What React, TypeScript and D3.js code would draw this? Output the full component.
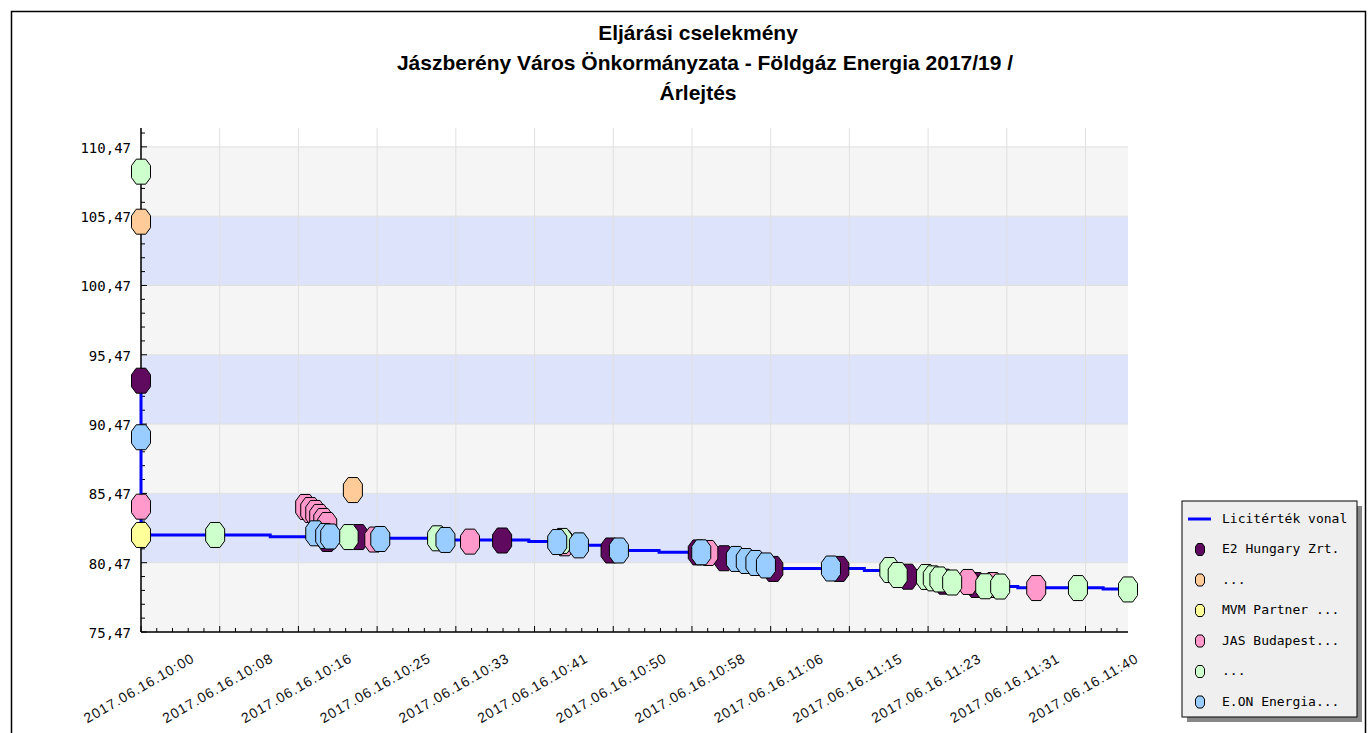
import React from 'react';
import * as d3 from 'd3';

const DAY = '2017-06-16';

// bidders (legend order = drawing order)
const seriesNames = ['E2 Hungary Zrt.', '...', 'MVM Partner ...', 'JAS Budapest...', '...', 'E.ON Energia...'];
const seriesColors = ['#5f0a5f', '#ffcc99', '#ffff99', '#ff99cc', '#ccffcc', '#99ccff'];

const e2Times = ['10:00:00', '10:19:43', '10:23:02', '10:38:14', '10:49:43', '10:58:57', '11:01:44', '11:06:57', '11:13:56', '11:21:11', '11:25:02', '11:28:25'];
const e2Values = [93.6, 82.18, 82.32, 82.07, 81.35, 81.21, 80.79, 80.02, 80.02, 79.46, 79.1, 78.86];

const orangeTimes = ['10:00:00', '10:22:26'];
const orangeValues = [105.07, 85.71];

const mvmTimes = ['10:00:00'];
const mvmValues = [82.47];

const jasTimes = ['10:00:00', '10:17:23', '10:17:55', '10:18:27', '10:18:52', '10:19:18', '10:19:43', '10:24:42', '10:34:50', '10:44:51', '11:00:04', '11:27:32', '11:30:11', '11:34:47'];
const jasValues = [84.51, 84.49, 84.27, 84.06, 83.77, 83.48, 83.19, 82.14, 81.99, 81.87, 81.17, 79.08, 78.86, 78.64];

const greenTimes = ['10:00:00', '10:07:51', '10:21:59', '10:31:21', '10:44:36', '11:19:14', '11:20:07', '11:23:07', '11:23:50', '11:24:32', '11:25:53', '11:29:23', '11:30:58', '11:39:12', '11:44:30'];
const greenValues = [108.68, 82.47, 82.32, 82.23, 82.04, 79.94, 79.58, 79.44, 79.34, 79.26, 79.04, 78.77, 78.75, 78.64, 78.54];

const eonTimes = ['10:00:00', '10:18:27', '10:19:30', '10:20:02', '10:25:20', '10:32:14', '10:44:04', '10:46:22', '10:50:36', '10:59:19', '11:02:59', '11:04:02', '11:05:03', '11:06:10', '11:13:03'];
const eonValues = [89.52, 82.59, 82.4, 82.36, 82.18, 82.11, 81.96, 81.72, 81.35, 81.22, 80.74, 80.59, 80.45, 80.27, 80.05];

const seriesTimes = [e2Times, orangeTimes, mvmTimes, jasTimes, greenTimes, eonTimes];
const seriesValues = [e2Values, orangeValues, mvmValues, jasValues, greenValues, eonValues];

// "Licitérték vonal" step line
const lineTimes = ['10:00:00', '10:00:00', '10:00:00', '10:00:00', '10:13:41', '10:20:02', '10:32:14', '10:41:04', '10:46:22', '10:49:43', '10:54:51', '11:01:44', '11:02:59', '11:04:02', '11:05:03', '11:06:10', '11:06:57', '11:16:35', '11:20:07', '11:21:11', '11:23:50', '11:24:32', '11:25:02', '11:25:53', '11:28:25', '11:29:23', '11:30:58', '11:32:50', '11:41:52', '11:44:30'];
const lineValues = [93.6, 89.52, 84.51, 82.47, 82.35, 82.23, 82.11, 81.99, 81.72, 81.35, 81.22, 80.79, 80.74, 80.59, 80.45, 80.27, 80.05, 79.91, 79.58, 79.46, 79.34, 79.26, 79.1, 79.04, 78.86, 78.77, 78.75, 78.67, 78.57, 78.57];

const xTickTimes = ['10:00:00', '10:08:20', '10:16:40', '10:25:00', '10:33:20', '10:41:40', '10:50:00', '10:58:20', '11:06:40', '11:15:00', '11:23:20', '11:31:40', '11:40:00'];
const yTickValues = [75.47, 80.47, 85.47, 90.47, 95.47, 100.47, 105.47, 110.47];

const titleLines = ['Eljárási cselekmény', 'Jászberény Város Önkormányzata - Földgáz Energia 2017/19 /', 'Árlejtés'];

const parse = d3.timeParse('%Y-%m-%d %H:%M:%S');
const toDate = (t: string) => parse(`${DAY} ${t}`) as Date;
const fmtX = d3.timeFormat('%Y.%m.%d.%H:%M');

const octagon = (w: number, h: number) => {
  const a = w / 2, b = h / 2, c = w * 0.25, d = h * 0.24;
  return `M${-c},${-b}L${c},${-b}L${a},${-d}L${a},${d}L${c},${b}L${-c},${b}L${-a},${d}L${-a},${-d}Z`;
};

export default function App() {
  const left = 141, right = 1128, top = 128, bottom = 632;
  const x = d3.scaleTime().domain([toDate('10:00:00'), toDate('11:44:30')]).range([left, right]);
  const y = d3.scaleLinear().domain([75.47, 111.83]).range([bottom, top]);

  const xMajor = xTickTimes.map(toDate);
  const xMinor: Date[] = [];
  xMajor.forEach((d) => {
    for (let k = 1; k < 5; k++) {
      const m = new Date(d.getTime() + k * 100000);
      if (x(m) <= right) xMinor.push(m);
    }
  });
  const yMinor = d3.range(76.47, 111.8, 1).filter((v) => Math.abs(((v - 75.47) % 5)) > 0.01 && Math.abs(((v - 75.47) % 5) - 5) > 0.01);

  const linePts = lineTimes.map((t, i) => [x(toDate(t)), y(lineValues[i])] as [number, number]);
  const linePath = d3.line().curve(d3.curveStepAfter)(linePts) || '';

  const mono = '"DejaVu Sans Mono", monospace';
  const sans = '"Liberation Sans", Arial, sans-serif';
  const marker = octagon(19, 25);
  const legendMarker = octagon(9, 12);

  const lgX = 1182, lgY = 501, lgW = 175, lgH = 216;
  const legendRows = ['Licitérték vonal', ...seriesNames];

  return (
    <svg width={1372} height={733} style={{ position: 'absolute', left: 0, top: 0 }}>
      <rect x={0} y={0} width={1372} height={733} fill="#fff" />
      <rect x={11.5} y={11.5} width={1354} height={740} fill="none" stroke="#000" strokeWidth={1.5} />

      {titleLines.map((t, i) => (
        <text key={i} x={i === 1 ? 705 : 698} y={40 + i * 30} textAnchor="middle" fontFamily={sans}
          fontWeight="bold" fontSize={21} fill="#000">{t}</text>
      ))}

      {/* bands */}
      {yTickValues.slice(0, -1).map((v, i) => (
        <rect key={i} x={left} width={right - left} y={y(v + 5)} height={y(v) - y(v + 5)}
          fill={i % 2 === 0 ? '#f5f5f5' : '#dde3fa'} />
      ))}
      {/* grid */}
      {yTickValues.map((v, i) => (
        <line key={i} x1={left} x2={right} y1={y(v)} y2={y(v)} stroke="#e0e0e0" />
      ))}
      {xMajor.map((d, i) => (
        <line key={i} x1={x(d)} x2={x(d)} y1={top} y2={bottom} stroke="#e0e0e0" />
      ))}

      {/* axes */}
      <line x1={left} x2={left} y1={top} y2={bottom} stroke="#000" strokeWidth={1.5} />
      <line x1={left} x2={right} y1={bottom} y2={bottom} stroke="#000" strokeWidth={1.5} />
      {yTickValues.map((v, i) => (
        <g key={i}>
          <line x1={left} x2={left + 6} y1={y(v)} y2={y(v)} stroke="#000" />
          <text x={131} y={y(v) + 2} textAnchor="end" dominantBaseline="middle" fontFamily={mono} fontSize={14}
            fill="#000">{v.toFixed(2).replace('.', ',')}</text>
        </g>
      ))}
      {yMinor.map((v, i) => (
        <line key={i} x1={left} x2={left + 4} y1={y(v)} y2={y(v)} stroke="#000" />
      ))}
      {xMajor.map((d, i) => (
        <g key={i}>
          <line x1={x(d)} x2={x(d)} y1={bottom} y2={bottom - 6} stroke="#000" />
          <text transform={`translate(${x(d) - 2},${688}) rotate(-30)`} textAnchor="middle" dominantBaseline="central"
            fontFamily={sans} fontSize={14} letterSpacing={1} fill="#111">{fmtX(d)}</text>
        </g>
      ))}
      {xMinor.map((d, i) => (
        <line key={i} x1={x(d)} x2={x(d)} y1={bottom} y2={bottom - 4} stroke="#000" />
      ))}

      {/* step line */}
      <path d={linePath} fill="none" stroke="#0000ff" strokeWidth={3} />

      {/* markers */}
      {seriesTimes.map((times, s) => (
        <g key={s}>
          {times.map((t, i) => (
            <path key={i} d={marker} transform={`translate(${x(toDate(t))},${y(seriesValues[s][i])})`}
              fill={seriesColors[s]} stroke="#000" strokeWidth={1} />
          ))}
        </g>
      ))}

      {/* legend */}
      <rect x={lgX + 5} y={lgY + 5} width={lgW} height={lgH} fill="#888" />
      <rect x={lgX} y={lgY} width={lgW} height={lgH} fill="#efefef" stroke="#000" />
      {legendRows.map((name, i) => {
        const cy = 519 + i * 30.5;
        return (
          <g key={i}>
            {i === 0 ? (
              <line x1={1188} x2={1211} y1={cy} y2={cy} stroke="#0000ff" strokeWidth={3} />
            ) : (
              <path d={legendMarker} transform={`translate(1200,${cy})`} fill={seriesColors[i - 1]} stroke="#000" />
            )}
            <text x={1222} y={cy} dominantBaseline="middle" fontFamily={mono} fontSize={13} fill="#000">{name}</text>
          </g>
        );
      })}
    </svg>
  );
}
